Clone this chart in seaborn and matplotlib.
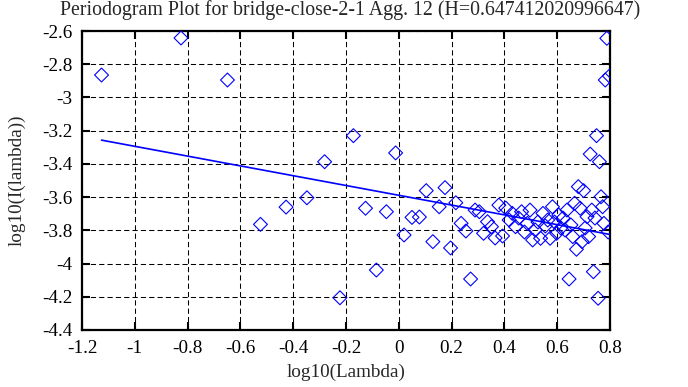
import numpy as np
import pandas as pd
import matplotlib
matplotlib.use("Agg")
import matplotlib.pyplot as plt
import seaborn as sns

# ---- data ----
log_lambda = [
    -1.126, -0.825, -0.649, -0.524, -0.427, -0.348, -0.281, -0.223, -0.172, -0.126,
    -0.085, -0.047, -0.012, 0.020, 0.050, 0.078, 0.104, 0.129, 0.153, 0.175,
    0.196, 0.216, 0.236, 0.254, 0.272, 0.289, 0.305, 0.321, 0.336, 0.351,
    0.365, 0.379, 0.393, 0.405, 0.418, 0.430, 0.442, 0.454, 0.465, 0.476,
    0.487, 0.497, 0.507, 0.517, 0.527, 0.537, 0.546, 0.555, 0.564, 0.573,
    0.582, 0.590, 0.598, 0.606, 0.614, 0.622, 0.630, 0.637, 0.645, 0.652,
    0.659, 0.666, 0.673, 0.680, 0.687, 0.694, 0.700, 0.706, 0.713, 0.719,
    0.725, 0.731, 0.737, 0.743, 0.749, 0.755, 0.760, 0.766, 0.772, 0.777,
    0.782, 0.788, 0.793, 0.798,
]
log_I = [
    -2.865, -2.642, -2.895, -3.764, -3.660, -3.604, -3.387, -4.206, -3.230, -3.667,
    -4.039, -3.688, -3.334, -3.828, -3.722, -3.720, -3.561, -3.868, -3.658, -3.543,
    -3.906, -3.634, -3.758, -3.804, -4.093, -3.678, -3.688, -3.818, -3.748, -3.778,
    -3.846, -3.648, -3.834, -3.666, -3.738, -3.698, -3.778, -3.726, -3.688, -3.810,
    -3.758, -3.678, -3.858, -3.798, -3.750, -3.848, -3.698, -3.774, -3.738, -3.848,
    -3.658, -3.750, -3.818, -3.708, -3.786, -3.726, -3.798, -3.678, -4.093, -3.768,
    -3.838, -3.637, -3.914, -3.537, -3.667, -3.868, -3.561, -3.786, -3.718, -3.838,
    -3.341, -3.678, -4.049, -3.726, -3.230, -4.209, -3.387, -3.598, -3.658, -3.758,
    -2.895, -2.644, -3.810, -2.871,
]
H = 0.647412020996647
fit_intercept = -3.589
x_ticks = [-1.2, -1, -0.8, -0.6, -0.4, -0.2, 0, 0.2, 0.4, 0.6, 0.8]
y_ticks = [-4.4, -4.2, -4, -3.8, -3.6, -3.4, -3.2, -3, -2.8, -2.6]
title = "Periodogram Plot for bridge-close-2-1 Agg. 12 (H=0.647412020996647)"

sns.set_theme(style="ticks")
plt.rcParams["font.family"] = ["Liberation Serif", "DejaVu Serif"]
plt.rcParams["axes.unicode_minus"] = False

df = pd.DataFrame({"x": log_lambda, "y": log_I})
slope = 1 - 2 * H
xf = np.array([min(log_lambda), max(log_lambda)])
fit = pd.DataFrame({"x": xf, "y": fit_intercept + slope * xf})

fig = plt.figure(figsize=(6.88, 3.87), dpi=100)
ax = fig.add_axes([82 / 688, 1 - 330 / 387, (610 - 82) / 688, (330 - 31) / 387])

ax.grid(True, color="black", linestyle=(0, (5, 3)), linewidth=0.75, zorder=0)
ax.set_axisbelow(True)

sns.scatterplot(data=df, x="x", y="y", ax=ax, marker="D", s=50,
                facecolors="none", edgecolor="#0000ff", linewidth=0.8, zorder=3)
sns.lineplot(data=fit, x="x", y="y", ax=ax, color="#0000ff", linewidth=1.2, zorder=4)

ax.set_xlim(-1.2, 0.8)
ax.set_ylim(-4.4, -2.6)
ax.set_xticks(x_ticks)
ax.set_yticks(y_ticks)
ax.set_xticklabels([f"{v:g}" for v in x_ticks])
ax.set_yticklabels([f"{v:g}" for v in y_ticks])
ax.tick_params(direction="in", length=6, width=1.5, top=True, right=True,
               labelsize=13.8, colors="black")
ax.tick_params(axis="y", pad=7)
ax.tick_params(axis="x", pad=7)
for sp in ax.spines.values():
    sp.set_linewidth(1.6)
    sp.set_color("black")
    sp.set_visible(True)

ax.set_xlabel("log10(Lambda)", fontsize=13.8, labelpad=5)
ax.set_ylabel("log10(I(lambda))", fontsize=13.8, labelpad=12)
fig.text(350 / 688, 1 - 10 / 387, title, ha="center", va="center", fontsize=14.3)

fig.savefig("out.png", dpi=100)
